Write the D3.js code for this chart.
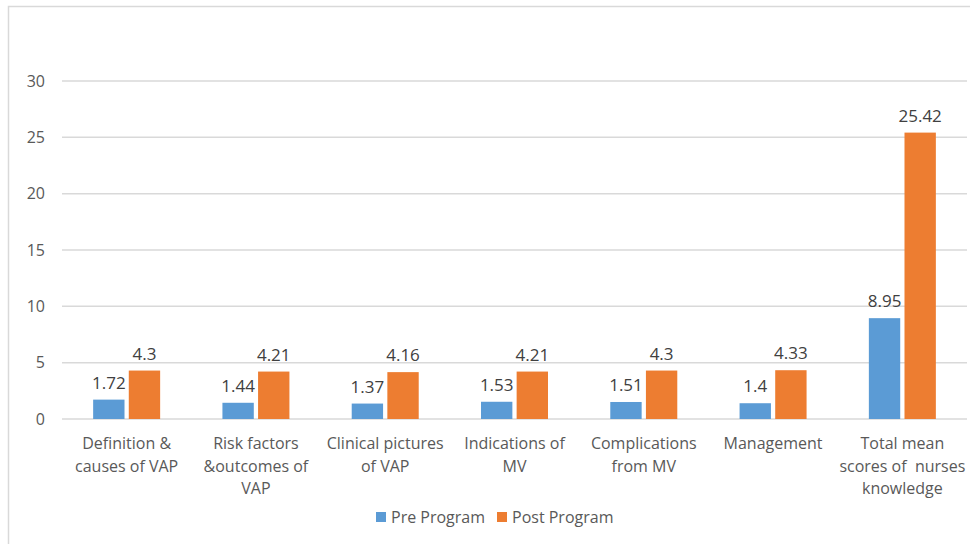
<!DOCTYPE html>
<html>
<head>
<meta charset="utf-8">
<script src="https://cdn.jsdelivr.net/npm/d3@7"></script>
<style>
  body { margin: 0; background: #fff; }
  text { font-family: "Open Sans", "Liberation Sans", sans-serif; white-space: pre; }
</style>
</head>
<body>
<div id="chart"></div>
<script>
// Chart data
const categories = [
  ["Definition &", "causes of VAP"],
  ["Risk factors", "&outcomes of", "VAP"],
  ["Clinical pictures", "of VAP"],
  ["Indications of", "MV"],
  ["Complications", "from MV"],
  ["Management"],
  ["Total mean", "scores of  nurses", "knowledge"]
];
const prePrograms = [1.72, 1.44, 1.37, 1.53, 1.51, 1.4, 8.95];
const postPrograms = [4.3, 4.21, 4.16, 4.21, 4.3, 4.33, 25.42];
const seriesNames = ["Pre Program", "Post Program"];
const colors = ["#5b9bd5", "#ed7d31"];
const yTicks = [0, 5, 10, 15, 20, 25, 30];

var width = 970, height = 544;
var margin = {top: 81, right: 3, bottom: 125, left: 62};
var plotW = width - margin.left - margin.right;
var plotH = height - margin.top - margin.bottom;

var svg = d3.select("#chart").append("svg")
    .attr("width", width)
    .attr("height", height);

// outer frame
svg.append("rect")
    .attr("x", 8.5).attr("y", 6.5)
    .attr("width", 1000).attr("height", 600)
    .attr("fill", "none")
    .attr("stroke", "#d9d9d9")
    .attr("stroke-width", 1.5);

var g = svg.append("g")
    .attr("transform", `translate(${margin.left},${margin.top})`);

var x = d3.scaleBand().domain(d3.range(categories.length)).range([0, plotW]);
var x1 = d3.scaleBand().domain([0, 1]).range([0, 67]).paddingInner(0.12);
var y = d3.scaleLinear().domain([0, 30]).range([plotH, 0]);

// gridlines
g.selectAll(".grid").data(yTicks)
  .enter().append("line")
    .attr("x1", 0).attr("x2", plotW)
    .attr("y1", d => y(d)).attr("y2", d => y(d))
    .attr("stroke", "#d9d9d9")
    .attr("stroke-width", 1.5);

// y tick labels
g.selectAll(".ytick").data(yTicks)
  .enter().append("text")
    .attr("x", -17)
    .attr("y", d => y(d))
    .attr("dy", "0.35em")
    .attr("text-anchor", "end")
    .attr("font-size", 16)
    .attr("fill", "#595959")
    .text(d => d);

var data = categories.map((c, i) => ({i: i, vals: [prePrograms[i], postPrograms[i]]}));

var groups = g.selectAll(".cat").data(data)
  .enter().append("g")
    .attr("transform", d => `translate(${x(d.i) + x.bandwidth() / 2 - 33.5},0)`);

groups.selectAll("rect").data(d => d.vals.map((v, k) => ({v: v, k: k})))
  .enter().append("rect")
    .attr("x", d => x1(d.k))
    .attr("y", d => y(d.v))
    .attr("width", x1.bandwidth())
    .attr("height", d => plotH - y(d.v))
    .attr("fill", d => colors[d.k]);

groups.selectAll(".lbl").data(d => d.vals.map((v, k) => ({v: v, k: k})))
  .enter().append("text")
    .attr("x", d => x1(d.k) + x1.bandwidth() / 2)
    .attr("y", d => y(d.v) - 11)
    .attr("text-anchor", "middle")
    .attr("font-size", 17)
    .attr("fill", "#404040")
    .text(d => d.v);

// category labels
g.selectAll(".xlab").data(data)
  .enter().append("text")
    .attr("x", d => x(d.i) + x.bandwidth() / 2)
    .attr("y", plotH + 30)
    .attr("text-anchor", "middle")
    .attr("font-size", 16)
    .attr("fill", "#595959")
    .each(function(d) {
      var t = d3.select(this);
      categories[d.i].forEach((line, j) => {
        t.append("tspan")
          .attr("x", x(d.i) + x.bandwidth() / 2)
          .attr("dy", j === 0 ? 0 : 22.5)
          .text(line);
      });
    });

// legend
var legendX = [376, 497];
var legend = svg.selectAll(".legend").data(seriesNames)
  .enter().append("g")
    .attr("transform", (d, i) => `translate(${legendX[i]},512)`);
legend.append("rect")
    .attr("width", 10).attr("height", 10)
    .attr("fill", (d, i) => colors[i]);
legend.append("text")
    .attr("x", 15).attr("y", 5)
    .attr("dy", "0.35em")
    .attr("font-size", 16)
    .attr("fill", "#595959")
    .text(d => d);
</script>
</body>
</html>
